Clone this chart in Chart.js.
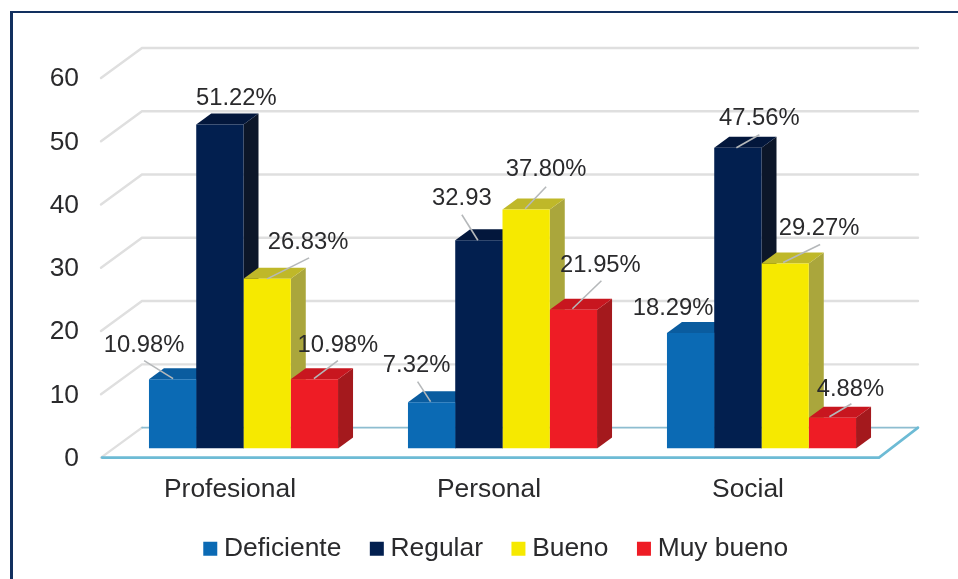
<!DOCTYPE html>
<html>
<head>
<meta charset="utf-8">
<style>
html,body{margin:0;padding:0;background:#fff;overflow:hidden}
#wrap{position:relative;width:958px;height:579px}
#left{position:absolute;left:10px;top:11px;width:3px;height:568px;background:#12305f}
#top{position:absolute;left:10px;top:11px;width:948px;height:2px;background:#12305f}
canvas{position:absolute;left:0;top:0}
</style>
</head>
<body>
<div id="wrap">
<div id="left"></div><div id="top"></div>
<canvas id="c" width="958" height="579"></canvas>
</div>
<script src="https://cdn.jsdelivr.net/npm/chart.js@4/dist/chart.umd.min.js"></script>
<script>
const categories = ['Profesional', 'Personal', 'Social'];
const seriesNames = ['Deficiente', 'Regular', 'Bueno', 'Muy bueno'];
const deficiente = [10.98, 7.32, 18.29];
const regular = [51.22, 32.93, 47.56];
const bueno = [26.83, 37.80, 29.27];
const muyBueno = [10.98, 21.95, 4.88];
const deficienteText = ['10.98%', '7.32%', '18.29%'];
const regularText = ['51.22%', '32.93', '47.56%'];
const buenoText = ['26.83%', '37.80%', '29.27%'];
const muyBuenoText = ['10.98%', '21.95%', '4.88%'];
const yTicks = [0, 10, 20, 30, 40, 50, 60];

// Label placement relative to each bar's top-front centre: [labelDx, labelDy, lineX1, lineY1, lineX2, lineY2]
const placeDeficiente = [[-28.5,-35.5,-28.5,-18.5,0.5,-0.5],[-15,-38.7,-14,-20.7,-1,-0.7],[-17.5,-26,null]];
const placeRegular = [[16.5,-28,null],[-17,-43.5,-17,-25.5,-1,0],[21.5,-31,21.5,-13,-1.5,0]];
const placeBueno = [[41,-38,42,-21,0,0],[20,-41.7,20,-22.7,-1,-0.7],[34,-36,35,-19,-2,-1]];
const placeMuyBueno = [[23.5,-35.5,23.5,-18.5,-0.5,-0.5],[27,-46,28,-29,-1,-1],[18,-30,19,-14,-3,-1]];

const textSets = [deficienteText, regularText, buenoText, muyBuenoText];
const placeSets = [placeDeficiente, placeRegular, placeBueno, placeMuyBueno];
const fronts = ['#0b6ab4', '#021f4f', '#f6e900', '#ee1c25'];
const sides = ['#0a4f8a', '#0c1629', '#aaa63c', '#a4191d'];
const tops = ['#0a5c9f', '#03173c', '#bfb829', '#c8161f'];
const inkColor = '#2a2a2c';
const gridColor = '#dfdfdf';
const floorColor = '#6dbbd5';
const depthX = 15, depthY = 11;

function quad(ctx, pts, color) {
  ctx.fillStyle = color;
  ctx.beginPath();
  pts.forEach((p, i) => i ? ctx.lineTo(p[0], p[1]) : ctx.moveTo(p[0], p[1]));
  ctx.closePath();
  ctx.fill();
}

const scene3d = {
  id: 'scene3d',
  afterLayout(chart) {
    const lg = chart.legend;
    lg.left += 31.5; lg.right += 31.5;
    lg.top -= 3; lg.bottom -= 3;
  },
  beforeDatasetsDraw(chart) {
    const { ctx, chartArea: a, scales: { y } } = chart;
    const fl = a.left - 13, bl = a.left + 28, br = a.right + 27, fr = a.right - 12;
    ctx.save();
    ctx.lineCap = 'round';
    yTicks.forEach(v => {
      const p = y.getPixelForValue(v);
      const back = p - 21, front = p + 9;
      ctx.strokeStyle = gridColor;
      ctx.lineWidth = 2.4;
      ctx.beginPath();
      ctx.moveTo(fl, front);
      ctx.lineTo(bl, back);
      if (v !== 0) ctx.lineTo(br, back);
      ctx.stroke();
    });
    const p0 = y.getPixelForValue(0);
    ctx.strokeStyle = '#8dbdd0';
    ctx.lineWidth = 1.6;
    ctx.beginPath();
    ctx.moveTo(bl, p0 - 21);
    ctx.lineTo(br, p0 - 21);
    ctx.stroke();
    ctx.strokeStyle = floorColor;
    ctx.lineWidth = 2.6;
    ctx.beginPath();
    ctx.moveTo(fl + 1, p0 + 9);
    ctx.lineTo(fr, p0 + 9);
    ctx.lineTo(br, p0 - 21);
    ctx.stroke();

    categories.forEach((_, ci) => {
      seriesNames.forEach((__, si) => {
        const b = chart.getDatasetMeta(si).data[ci];
        const l = b.x - b.width / 2, r = b.x + b.width / 2;
        quad(ctx, [[r, b.y], [r + depthX, b.y - depthY], [r + depthX, b.base - depthY], [r, b.base]], sides[si]);
        quad(ctx, [[l, b.y], [l + depthX, b.y - depthY], [r + depthX, b.y - depthY], [r, b.y]], tops[si]);
      });
    });
    ctx.restore();
  },
  afterDatasetsDraw(chart) {
    const { ctx } = chart;
    ctx.save();
    ctx.font = '23.8px "Liberation Sans", Arial, sans-serif';
    ctx.textAlign = 'center';
    ctx.textBaseline = 'middle';
    seriesNames.forEach((_, si) => {
      chart.getDatasetMeta(si).data.forEach((b, ci) => {
        const pl = placeSets[si][ci];
        if (pl[2] !== null) {
          ctx.strokeStyle = '#b5b8ba';
          ctx.lineWidth = 1.6;
          ctx.beginPath();
          ctx.moveTo(b.x + pl[2], b.y + pl[3]);
          ctx.lineTo(b.x + pl[4], b.y + pl[5]);
          ctx.stroke();
        }
        ctx.fillStyle = inkColor;
        ctx.fillText(textSets[si][ci], b.x + pl[0], b.y + pl[1] + 1.5);
      });
    });
    ctx.restore();
  }
};

Chart.defaults.font.family = '"Liberation Sans", Arial, sans-serif';
Chart.defaults.color = inkColor;

new Chart(document.getElementById('c'), {
  type: 'bar',
  data: {
    labels: categories,
    datasets: [deficiente, regular, bueno, muyBueno].map((d, i) => ({
      label: seriesNames[i],
      data: d,
      backgroundColor: fronts[i],
      borderWidth: 0,
      categoryPercentage: 0.73,
      barPercentage: 1
    }))
  },
  options: {
    responsive: false,
    animation: false,
    layout: { padding: { left: 44, right: 67, top: 69, bottom: 4 } },
    plugins: {
      tooltip: { enabled: false },
      legend: {
        position: 'bottom',
        labels: {
          font: { size: 26.4 },
          color: inkColor,
          boxWidth: 1,
          boxHeight: 1,
          padding: 35,
          generateLabels(chart) {
            return chart.data.datasets.map((ds, i) => ({
              text: ds.label,
              fillStyle: ds.backgroundColor,
              strokeStyle: ds.backgroundColor,
              lineWidth: 13,
              fontColor: inkColor,
              datasetIndex: i
            }));
          }
        }
      }
    },
    scales: {
      x: {
        grid: { display: false },
        border: { display: false },
        ticks: { font: { size: 26.4 }, color: inkColor, padding: 17, labelOffset: -13.5, maxRotation: 0 },
        afterFit(s) { s.height = 55; }
      },
      y: {
        min: 0,
        max: 60,
        grid: { display: false, drawTicks: false },
        border: { display: false },
        ticks: { stepSize: 10, font: { size: 26.4 }, color: inkColor, padding: 35, labelOffset: 10 },
        afterFit(s) { s.width = 70; }
      }
    }
  },
  plugins: [scene3d]
});
</script>
</body>
</html>
